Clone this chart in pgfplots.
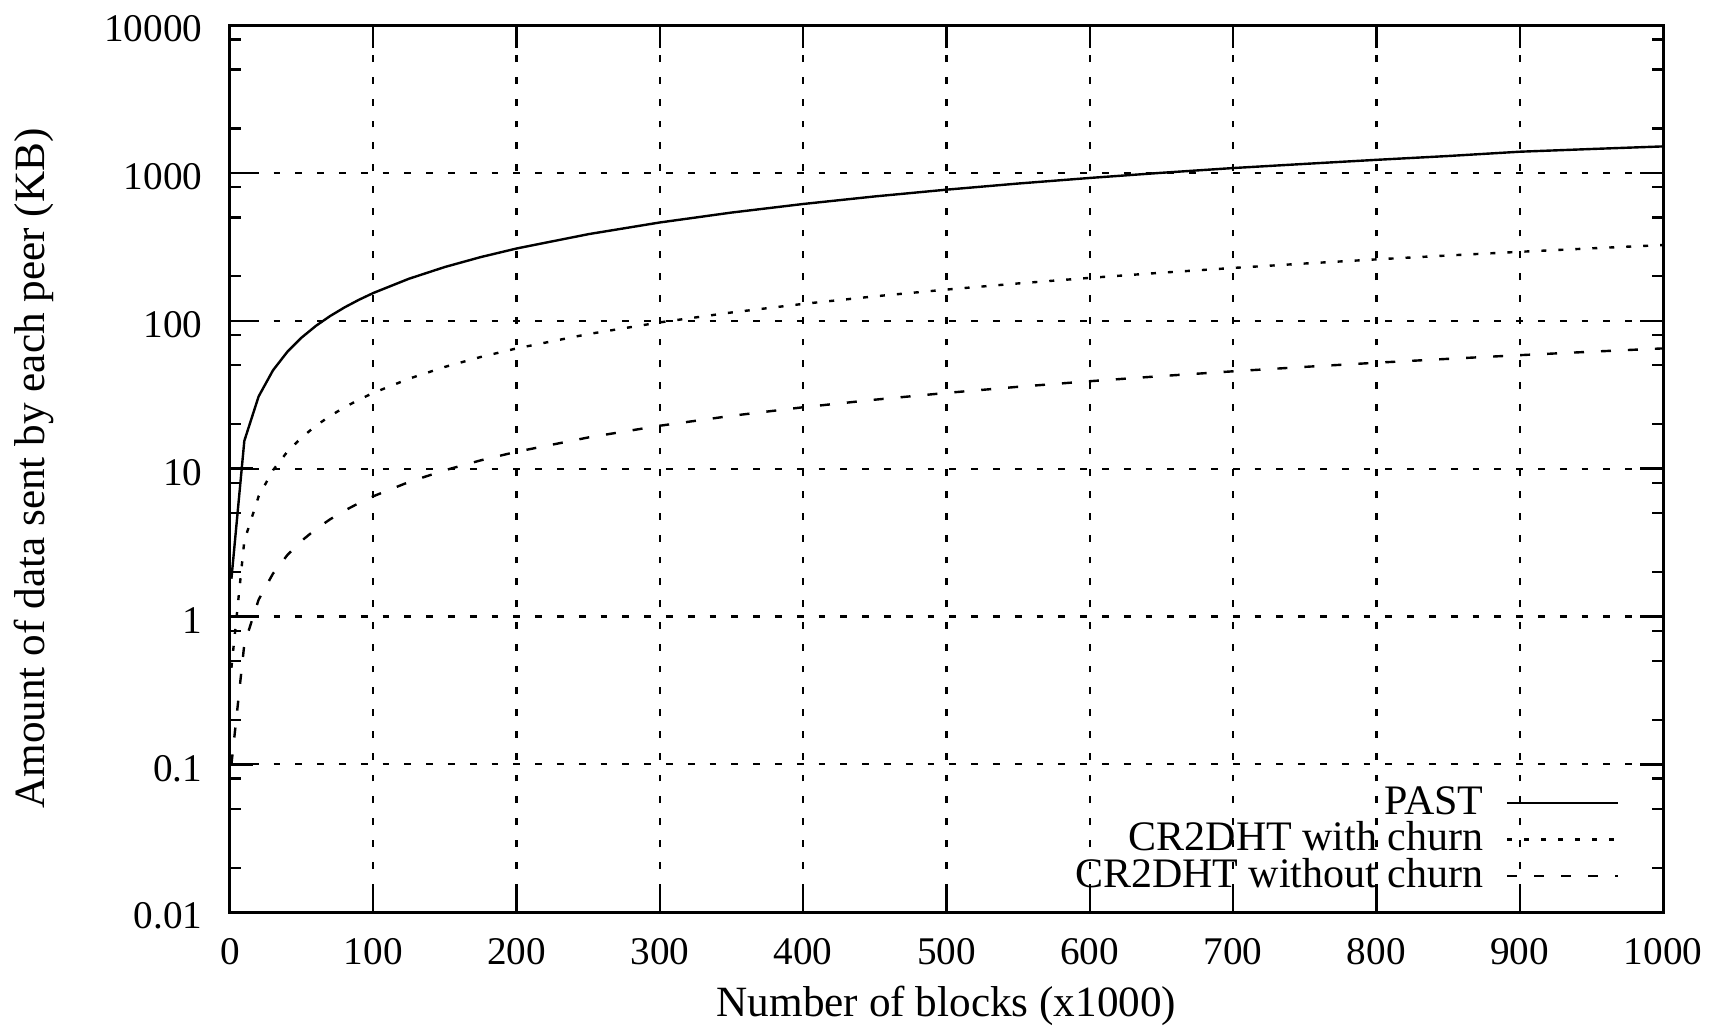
\documentclass[border=0pt]{standalone}
\usepackage{fontspec}
\setmainfont{Liberation Serif}
\usepackage{pgfplots}
\pgfplotsset{compat=1.18}
\begin{document}
\begin{tikzpicture}
\begin{axis}[
  scale only axis,
  width=358.25pt, height=221.8pt,
  xmin=0, xmax=1000,
  ymode=log, ymin=0.01, ymax=10000,
  xtick={0,100,...,1000},
  ytick={0.01,0.1,1,10,100,1000,10000},
  yticklabels={0.01,0.1,1,10,100,1000,10000},
  minor ytick={0.02,0.05,0.08,0.2,0.5,0.8,2,5,8,20,50,80,200,500,800,2000,5000,8000},
  /pgf/number format/assume math mode=true,
  /pgf/number format/1000 sep={},
  tick label style={font=\fontsize{9.8}{11.8}\selectfont},
  xticklabel style={yshift=-3pt},
  yticklabel style={xshift=-3.4pt, yshift=-1pt},
  major tick length=5.75pt,
  minor tick length=2.7pt,
  tick style={black, line width=0.6pt},
  axis line style={line width=0.75pt},
  grid=major,
  major grid style={black, line width=0.55pt, dash pattern=on 1.7pt off 3.75pt},
  xlabel={Number of blocks (x1000)},
  ylabel={Amount of data sent by each peer (KB)},
  label style={font=\fontsize{10.8}{13}\selectfont},
  xlabel style={at={(axis description cs:0.5,-0.106)}, anchor=center},
  ylabel style={at={(axis description cs:-0.1368,0.5)}, anchor=center},
  legend plot pos=right,
  legend cell align=right,
  legend image code/.code={\draw[#1] (0pt,0pt) -- (27.7pt,0pt);},
  legend style={draw=none, fill=none, font=\fontsize{10.5}{12}\selectfont,
    inner sep=0pt, outer sep=0pt,
    nodes={inner sep=0pt, text height=7.3pt, text depth=1.8pt},
    /tikz/every odd column/.append style={column sep=5.6pt},
    at={(axis description cs:0.9693,0.0203)}, anchor=south east,
    row sep=0pt},
]
\addplot[black, line width=0.6pt] coordinates {
(1,1.8) (10,15.4) (20,30.8) (30,46.2) (40,61.6) (50,77) (60,92.4) (70,107.8) (80,123.2) (90,138.6)
(100,154) (125,192.5) (150,231) (175,269.5) (200,308) (250,385) (300,462) (350,539) (400,616)
(450,693) (500,770) (550,847) (600,924) (650,1001) (700,1078) (750,1150) (800,1225) (850,1300)
(900,1390) (950,1450) (1000,1510)
};
\addlegendentry{PAST}
\addplot[black, line width=0.6pt, dash pattern=on 1.25pt off 3pt] coordinates {
(1,0.45) (10,3.25) (20,6.5) (30,9.75) (40,13) (50,16.25) (60,19.5) (70,22.75) (80,26) (90,29.25)
(100,32.5) (125,40.6) (150,48.75) (175,56.9) (200,65) (250,81.25) (300,97.5) (350,113.75) (400,130)
(450,146.25) (500,162.5) (550,178.75) (600,195) (650,211.25) (700,227.5) (750,243.75) (800,260)
(850,276.25) (900,292.5) (950,308.75) (1000,325)
};
\addlegendentry{CR2DHT with churn}
\addplot[black, line width=0.6pt, dash pattern=on 2.5pt off 4.25pt] coordinates {
(1,0.1) (10,0.65) (20,1.3) (30,1.95) (40,2.6) (50,3.25) (60,3.9) (70,4.55) (80,5.2) (90,5.85)
(100,6.5) (125,8.125) (150,9.75) (175,11.375) (200,13) (250,16.25) (300,19.5) (350,22.75) (400,26)
(450,29.25) (500,32.5) (550,35.75) (600,39) (650,42.25) (700,45.5) (750,48.75) (800,52)
(850,55.25) (900,58.5) (950,61.75) (1000,65)
};
\addlegendentry{CR2DHT without churn}
\end{axis}
\pgfresetboundingbox
\path[use as bounding box] ([shift={(-57.5pt,-29.2pt)}]current axis.south west) rectangle ([shift={(13pt,6.25pt)}]current axis.north east);
\end{tikzpicture}
\end{document}
